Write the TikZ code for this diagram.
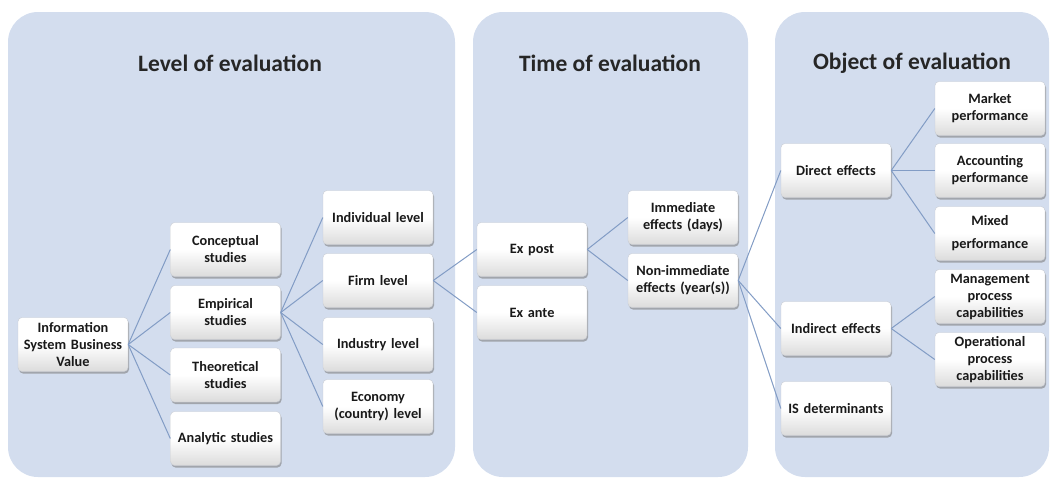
\documentclass[tikz,border=0pt]{standalone}
\usepackage{fontspec}
\setmainfont{Carlito}
\usetikzlibrary{shadows}
\definecolor{panelblue}{RGB}{211,221,238}
\definecolor{linkblue}{RGB}{130,156,197}
\definecolor{boxline}{RGB}{200,204,212}

\begin{document}
\begin{tikzpicture}[%
  x=1pt, y=-1pt,
  panel/.style={fill=panelblue, draw=none, rounded corners=30pt},
  ptitle/.style={font=\fontsize{23.5}{27}\selectfont\bfseries, text=black!85},
  box/.style={draw=boxline, line width=0.4pt, rounded corners=4pt,
    top color=white, bottom color=black!14, middle color=white,
    minimum width=110pt, minimum height=54pt, inner sep=0pt,
    text width=108pt, align=center, text=black!90,
    font=\fontsize{14.3}{17}\selectfont\bfseries,
    drop shadow={shadow xshift=1pt, shadow yshift=-2pt, fill=black!50, opacity=.6}},
  link/.style={draw=linkblue, line width=1pt}]
\useasboundingbox (0,0) rectangle (1052,483);
% panels
\fill[panel] (8,12) rectangle (455,477);
\fill[panel] (473,12) rectangle (748,477);
\fill[panel] (775,12) rectangle (1049,477);
\node[ptitle] (tlevel) at (230,63) {Level of evaluation};
\node[ptitle] (ttime) at (610,63) {Time of evaluation};
\node[ptitle] (tobject) at (912,63) {Object of evaluation};
% level of evaluation
\node[box] (isbv) at (73,344.5) {Information\\System Business\\Value};
\node[box] (conc) at (225.5,249.5) {Conceptual\\studies};
\node[box] (emp) at (225.5,312.5) {Empirical\\studies};
\node[box] (theo) at (225.5,375) {Theoretical\\studies};
\node[box] (ana) at (225.5,438.5) {Analytic studies};
\node[box] (indiv) at (378,217.5) {Individual level};
\node[box] (firm) at (378,280.5) {Firm level};
\node[box] (indus) at (378,344.5) {Industry level};
\node[box] (econ) at (378,406.5) {Economy\\(country) level};
% time of evaluation
\node[box] (expost) at (532,249.5) {Ex post};
\node[box] (exante) at (532,312.5) {Ex ante};
\node[box] (immed) at (683,217.5) {Immediate\\effects (days)};
\node[box] (nonimm) at (683,280.5) {Non-immediate\\effects (year(s))};
% object of evaluation
\node[box] (direct) at (836,170.5) {Direct effects};
\node[box] (indirect) at (836,328.5) {Indirect effects};
\node[box] (isdet) at (836,408.5) {IS determinants};
\node[box] (market) at (990,108.5) {Market\\performance};
\node[box] (account) at (990,170.5) {Accounting\\performance};
\node[box] (mixed) at (990,233.5) {Mixed\\[6pt]performance};
\node[box] (manage) at (990,296.5) {Management\\process\\capabilities};
\node[box] (oper) at (990,359.5) {Operational\\process\\capabilities};
% connectors
\foreach \a/\b in {isbv/conc, isbv/emp, isbv/theo, isbv/ana,
  emp/indiv, emp/firm, emp/indus, emp/econ,
  firm/expost, firm/exante, expost/immed, expost/nonimm,
  nonimm/direct, nonimm/indirect, nonimm/isdet,
  direct/market, direct/account, direct/mixed,
  indirect/manage, indirect/oper}
  \draw[link] (\a.east) -- (\b.west);
\end{tikzpicture}
\end{document}
